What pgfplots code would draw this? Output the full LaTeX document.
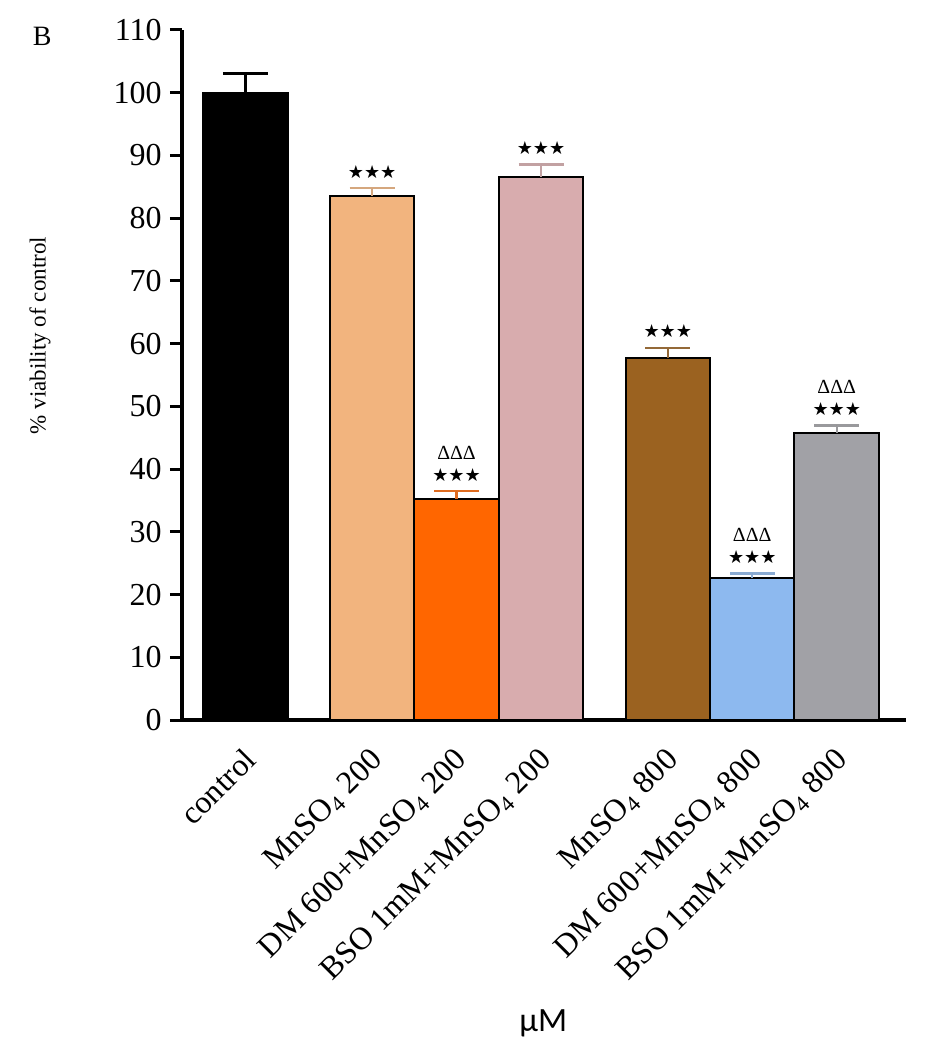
\documentclass[border=0pt]{standalone}
\usepackage{fontspec}
\setmainfont{Liberation Serif}
\newfontfamily\symfont{DejaVu Sans}
\newfontfamily\labfont{Carlito}
\usepackage{pgfplots}
\pgfplotsset{compat=1.18}

\definecolor{cMnA}{HTML}{F2B47E}
\definecolor{cDMA}{HTML}{FF6600}
\definecolor{cBSA}{HTML}{D8ACAE}
\definecolor{cMnB}{HTML}{9B6220}
\definecolor{cDMB}{HTML}{8DB9EF}
\definecolor{cBSB}{HTML}{A1A1A6}

\pgfplotsset{
  vbar/.style={fill=#1, draw=black, line width=1pt,
    error bars/.cd, y dir=plus, y explicit,
    error bar style={line width=1.2pt, #1!75!gray},
    error mark options={rotate=90, line width=1.4pt, mark size=11.25pt, #1!75!gray}},
  sig/.style={only marks, mark=*, mark size=0pt, mark options={draw=none, fill=none},
    forget plot, nodes near coords={#1},
    every node near coord/.append style={anchor=center, inner sep=0pt}},
}

\begin{document}
\begin{tikzpicture}
\useasboundingbox (-91pt,-165pt) rectangle (374.5pt,360pt);
\begin{axis}[
    at={(0,0)}, anchor=south west,
    scale only axis,
    width=362pt, height=345pt,
    ybar, bar width=1, bar shift=0pt,
    xmin=-0.75, xmax=7.82,
    ymin=0, ymax=110,
    enlargelimits=false,
    clip=false,
    axis x line*=bottom, axis y line*=left,
    axis line style={line width=2pt, -},
    tick align=outside,
    major tick length=6pt,
    ytick={0,10,...,110},
    ytick style={line width=1.5pt, black},
    xtick={0,1.5,2.5,3.5,5,6,7},
    xtick style={draw=none},
    xticklabels={control, MnSO\textsubscript{4} 200, DM 600+MnSO\textsubscript{4} 200,
      BSO 1mM+MnSO\textsubscript{4} 200, MnSO\textsubscript{4} 800,
      DM 600+MnSO\textsubscript{4} 800, BSO 1mM+MnSO\textsubscript{4} 800},
    /pgf/number format/assume math mode=true,
    yticklabel style={font=\fontsize{16}{19}\selectfont, inner sep=0pt, xshift=-4pt},
    xticklabel style={font=\fontsize{16}{19}\selectfont, xshift=-1.7pt, yshift=-7pt,
      rotate=45, anchor=north east, inner sep=0pt},
    ylabel={\% viability of control},
    ylabel style={at={(axis description cs:-0.196,0.557)}, anchor=center,
      font=\fontsize{11.5}{14}\selectfont},
    xlabel={µM},
    xlabel style={at={(axis description cs:0.499,-0.439)}, anchor=center,
      font=\labfont\fontsize{17}{20}\selectfont},
]
\addplot[fill=black, draw=black, line width=1pt,
    error bars/.cd, y dir=plus, y explicit,
    error bar style={line width=1.5pt, black},
    error mark options={rotate=90, line width=1.5pt, mark size=11.25pt, black}]
  coordinates {(0,100) +- (0,3.1)};
\addplot[vbar=cMnA] coordinates {(1.5,83.5) +- (0,1.3)};
\addplot[vbar=cDMA] coordinates {(2.5,35.2) +- (0,1.3)};
\addplot[vbar=cBSA] coordinates {(3.5,86.6) +- (0,1.9)};
\addplot[vbar=cMnB] coordinates {(5,57.7) +- (0,1.6)};
\addplot[vbar=cDMB] coordinates {(6,22.6) +- (0,0.8)};
\addplot[vbar=cBSB] coordinates {(7,45.8) +- (0,1.2)};

% significance marks above the error bars
\addplot[sig={\symfont\fontsize{9}{9}\selectfont ★★★},
    every node near coord/.append style={yshift=8.25pt}]
  coordinates {(1.5,84.8) (2.5,36.5) (3.5,88.5) (5,59.3) (6,23.4) (7,47.0)};
\addplot[sig={\fontsize{10}{10}\selectfont ΔΔΔ},
    every node near coord/.append style={yshift=19pt}]
  coordinates {(2.5,36.5) (6,23.4) (7,47.0)};

\node[font=\fontsize{14}{14}\selectfont] at (rel axis cs:-0.193,0.991) {B};
\end{axis}
\end{tikzpicture}
\end{document}
